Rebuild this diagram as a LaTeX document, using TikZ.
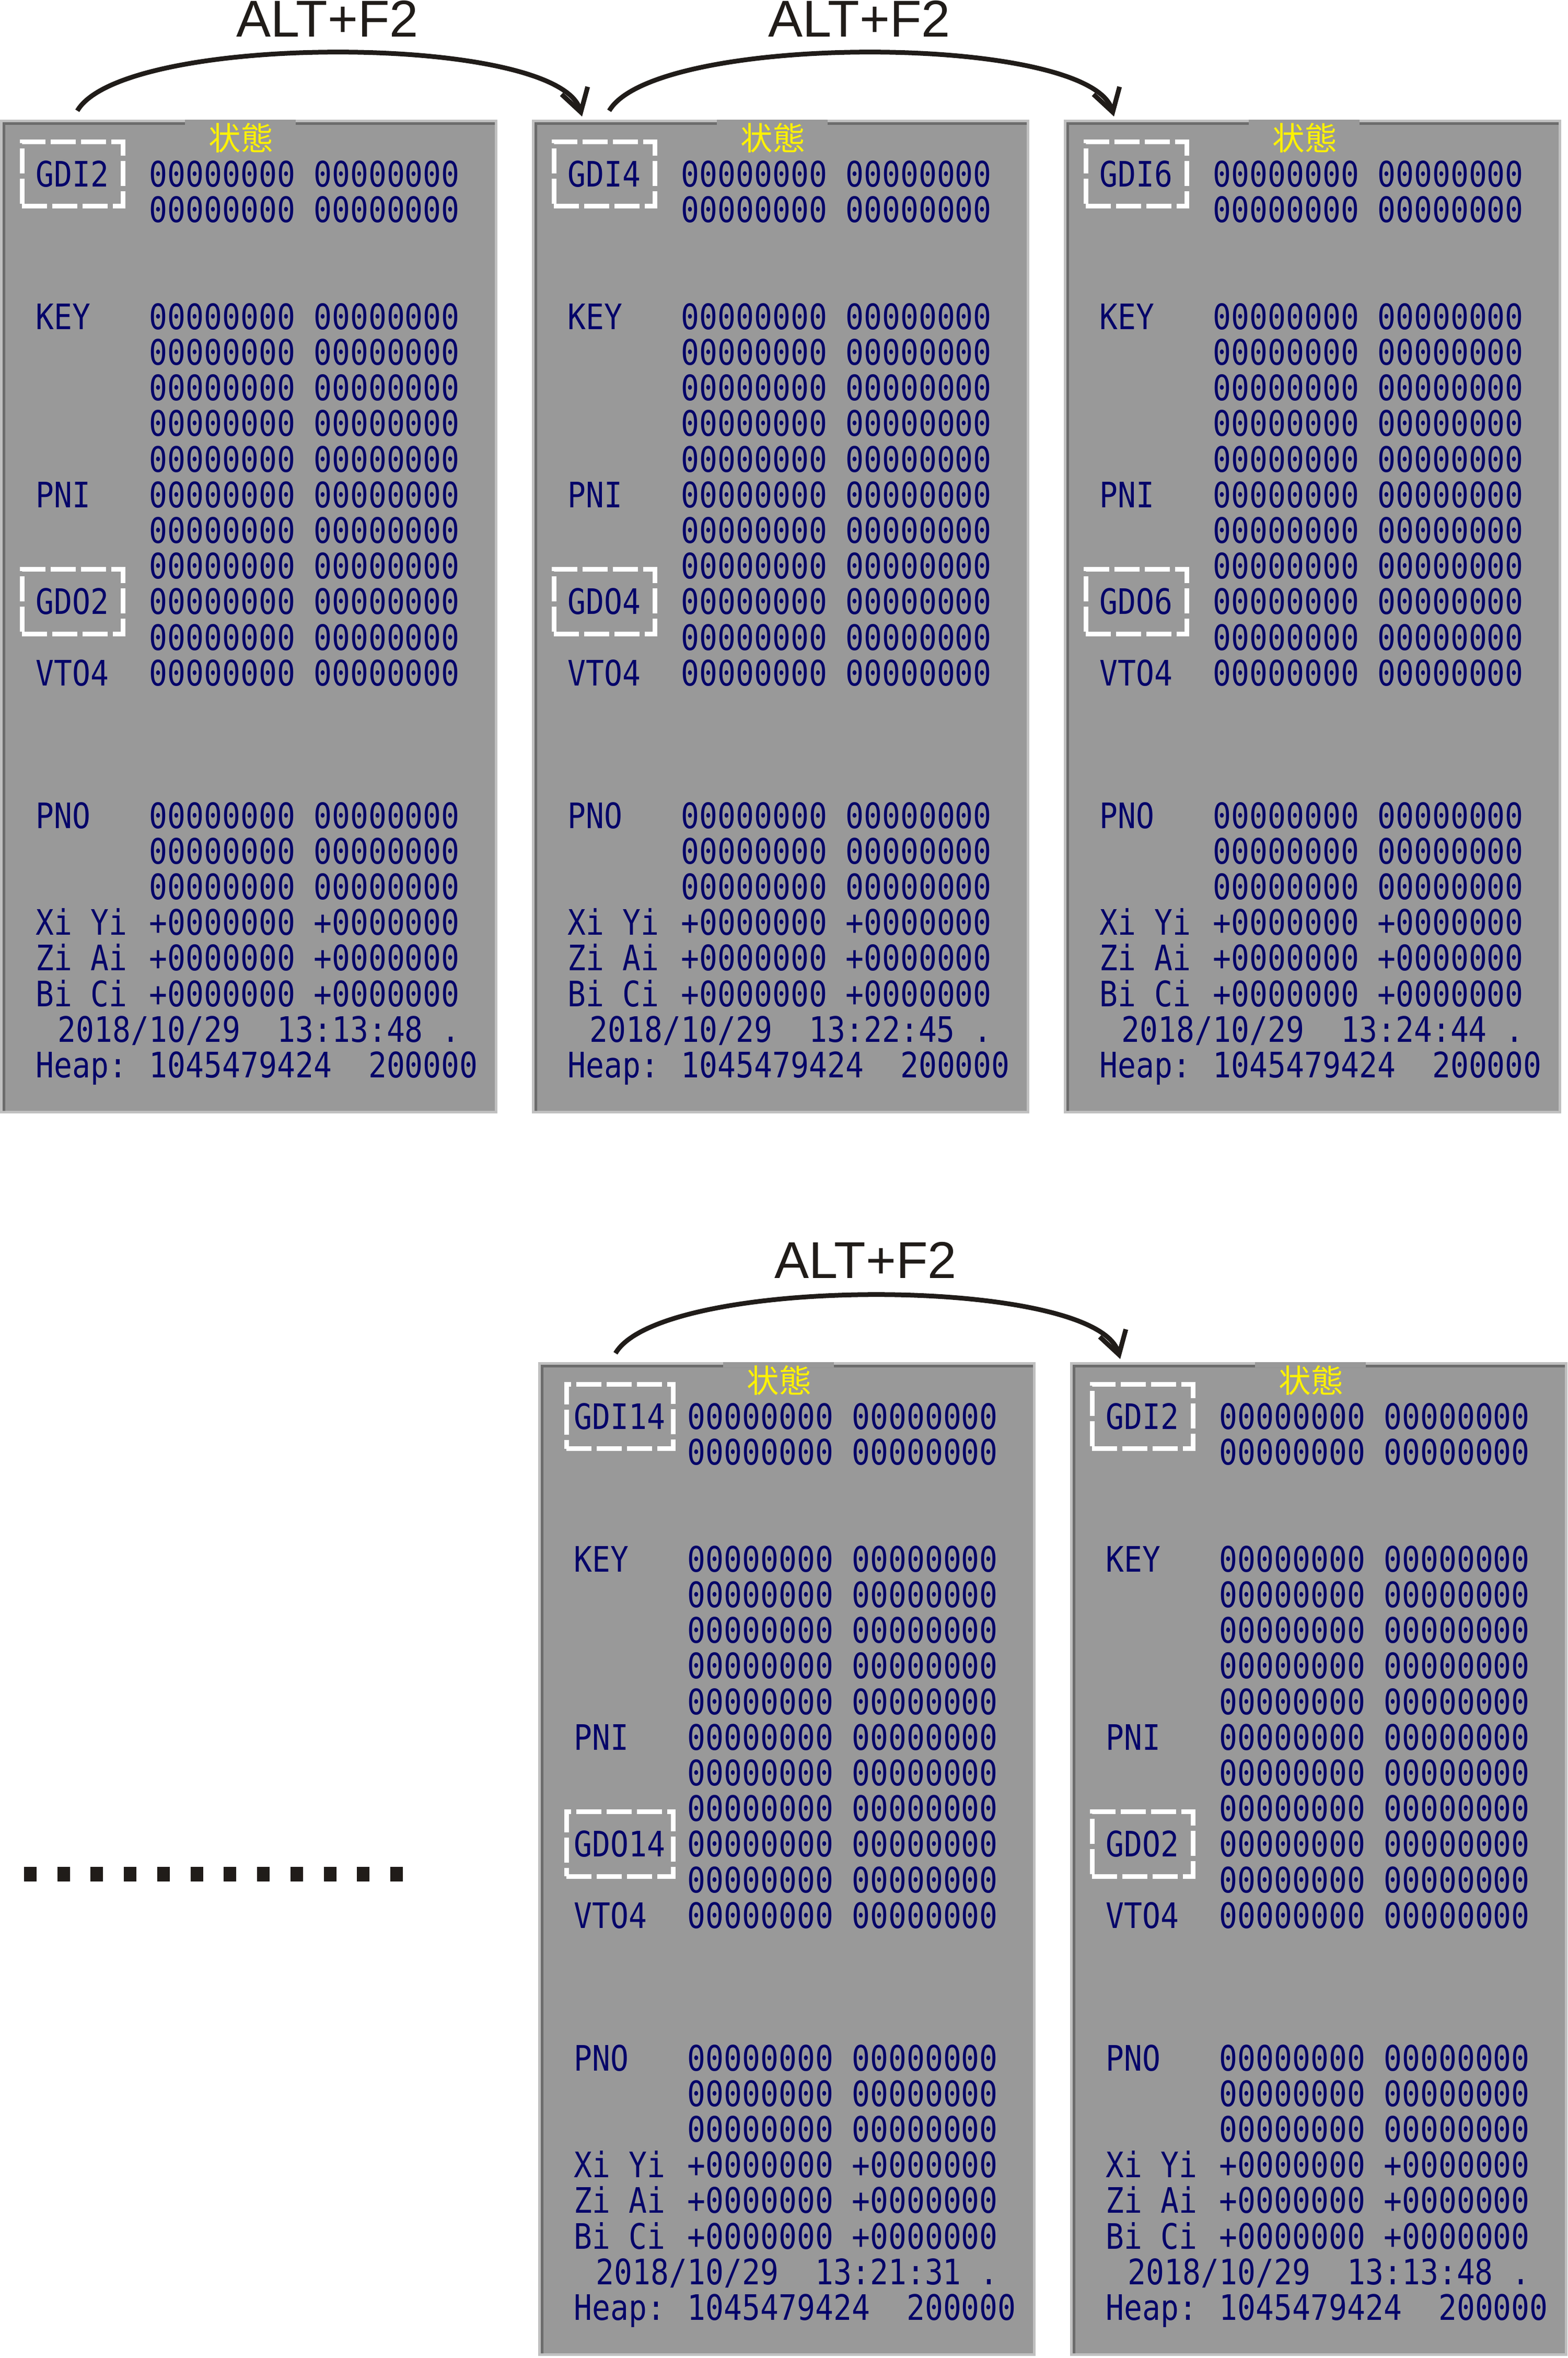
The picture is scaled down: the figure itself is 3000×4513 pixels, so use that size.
\documentclass[tikz,border=0pt]{standalone}
\usepackage{fontspec}
\usetikzlibrary{arrows.meta,fit}
\newfontfamily\scrfont{DejaVu Sans Mono}[FakeStretch=0.864]
\newfontfamily\cjkfont{Noto Sans CJK JP}
\newfontfamily\keyfont{Liberation Sans}
\definecolor{screengray}{RGB}{153,153,153}
\definecolor{rimlight}{RGB}{192,192,192}
\definecolor{rimdark}{RGB}{108,108,108}
\definecolor{screenink}{RGB}{5,5,105}
\definecolor{inkblack}{RGB}{32,28,25}
\tikzset{
  dump/.style={font=\fontsize{19.1}{22}\scrfont, text=screenink, inner sep=0pt, anchor=base west},
  tabtitle/.style={font=\fontsize{17.5}{20}\cjkfont, text=yellow, inner sep=0pt},
  hilite/.style={draw=white, line width=0.09cm, dash pattern=on 0.48cm off 0.1cm,
    inner xsep=0.14cm, inner ysep=0.355cm, minimum width=1.93cm},
  hop/.style={draw=inkblack, line width=0.09cm, -{Straight Barb[length=0.43cm,width=0.52cm]}},
  keylabel/.style={font=\fontsize{28.2}{32}\keyfont, text=inkblack, inner sep=0pt, anchor=base},
  ellipsis/.style={draw=inkblack, line width=0.28cm, dash pattern=on 0.24cm off 0.397cm},
}
\tikzset{
  screen/.pic={
    % sunken frame and title tab
    \fill[rimlight] (0,0) rectangle (952,1902);
    \fill[screengray] (5,5) rectangle (947,1897);
    \fill[rimdark] (5,5) rectangle (947,10) (5,10) rectangle (10,1897);
    \fill[screengray] (354,0) rectangle (566,10);
    \node[tabtitle] (-title) at (461,35) {状態};
    \coordinate (-out) at (148,-17);
    \coordinate (-in) at (96,-6);
    % register dump
    \foreach \row/\lab in {0/\scrgdi,4/KEY,9/PNI,12/\scrgdo,14/VTO4,18/PNO,21/Xi Yi,22/Zi Ai,23/Bi Ci}
      \node[dump] (-l\row) at (68,128.5+68.2*\row) {\lab};
    \foreach \row in {0,1,4,5,6,7,8,9,10,11,12,13,14,18,19,20}{
      \node[dump] (-a\row) at (285,128.5+68.2*\row) {00000000};
      \node[dump] (-b\row) at (599.6,128.5+68.2*\row) {00000000};
    }
    \foreach \row in {21,22,23}{
      \node[dump] (-a\row) at (285,128.5+68.2*\row) {+0000000};
      \node[dump] (-b\row) at (599.6,128.5+68.2*\row) {+0000000};
    }
    \node[dump] (-date) at (110.2,1765.3) {2018/10/29};
    \node[dump] (-clock) at (529.7,1765.3) {\scrclock};
    \node[dump] (-dot) at (844.3,1765.3) {.};
    \node[dump] (-heap) at (68,1833.5) {Heap:};
    \node[dump] (-used) at (285,1833.5) {1045479424};
    \node[dump] (-free) at (704.4,1833.5) {200000};
    % marked registers
    \node[hilite, fit=(-l0)] (-gdibox) {};
    \node[hilite, fit=(-l12)] (-gdobox) {};
  },
  /screen/.search also={/tikz},
  /screen/.cd,
  gdi/.store in=\scrgdi,
  gdo/.store in=\scrgdo,
  clock/.store in=\scrclock,
  gdi=GDI2,
  gdo=GDO2,
  clock=13:13:48,
}

\begin{document}
\begin{tikzpicture}[x=0.01cm, y=-0.01cm]
  \useasboundingbox (0,0) rectangle (3000,4513);

  \path (0,229) pic[/screen/gdi=GDI2, /screen/gdo=GDO2, /screen/clock=13:13:48] (p1) {screen};
  \path (1018,229) pic[/screen/gdi=GDI4, /screen/gdo=GDO4, /screen/clock=13:22:45] (p2) {screen};
  \path (2036,229) pic[/screen/gdi=GDI6, /screen/gdo=GDO6, /screen/clock=13:24:44] (p3) {screen};
  \path (1030,2607) pic[/screen/gdi=GDI14, /screen/gdo=GDO14, /screen/clock=13:21:31] (p4) {screen};
  \path (2048,2607) pic[/screen/gdi=GDI2, /screen/gdo=GDO2, /screen/clock=13:13:48] (p5) {screen};

  \draw[hop] (p1-out) .. controls +(88,-150) and +(-46,-160) .. (p2-in)
    node[keylabel, pos=0.5, xshift=-0.2cm, yshift=0.31cm] (k1) {ALT+F2};
  \draw[hop] (p2-out) .. controls +(88,-150) and +(-46,-160) .. (p3-in)
    node[keylabel, pos=0.5, xshift=-0.2cm, yshift=0.31cm] (k2) {ALT+F2};
  \draw[hop] (p4-out) .. controls +(88,-150) and +(-46,-160) .. (p5-in)
    node[keylabel, pos=0.5, xshift=-0.2cm, yshift=0.33cm] (k3) {ALT+F2};

  % skipped screens
  \coordinate (more-l) at (46,3587);
  \coordinate (more-r) at (771,3587);
  \draw[ellipsis] (more-l) -- (more-r);
\end{tikzpicture}
\end{document}
